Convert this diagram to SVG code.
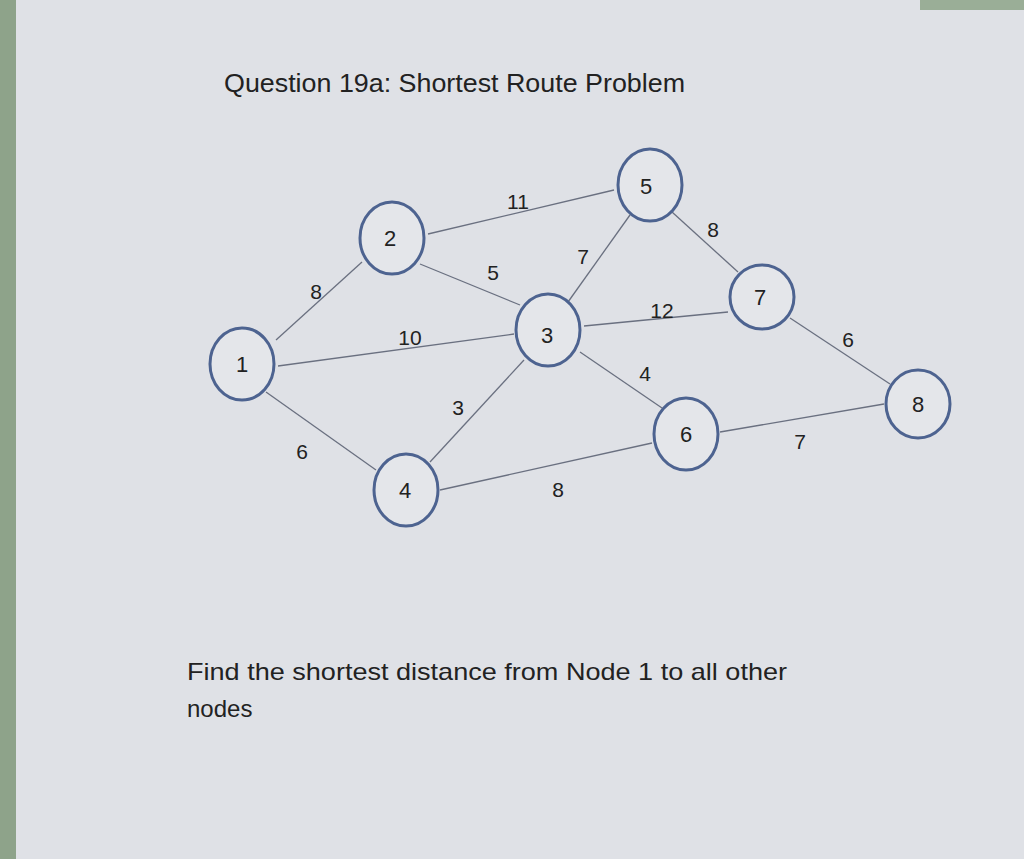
<svg xmlns="http://www.w3.org/2000/svg" width="1024" height="859" viewBox="0 0 1024 859">
<style>
.n{fill:#e4e6ea;stroke:#4d6390;stroke-width:3}
.e{stroke:#6a7080;stroke-width:1.3}
text{font-family:"Liberation Sans",Arial,sans-serif;fill:#222}
.nl{font-size:22px;text-anchor:middle}
.el{font-size:21px;text-anchor:middle}
</style>
<rect width="1024" height="859" fill="#dfe1e6"/>
<rect x="0" y="0" width="16" height="859" fill="#8ea38a"/>
<rect x="920" y="0" width="104" height="10" fill="#9aae97"/>
<text x="224" y="92" font-size="26" textLength="461" lengthAdjust="spacingAndGlyphs">Question 19a: Shortest Route Problem</text>
<g id="connectors">
<line class="e" x1="276" y1="340" x2="362" y2="262"/>
<line class="e" x1="278" y1="366" x2="514" y2="334"/>
<line class="e" x1="266" y1="392" x2="376" y2="470"/>
<line class="e" x1="428" y1="234" x2="614" y2="190"/>
<line class="e" x1="420" y1="264" x2="520" y2="305"/>
<line class="e" x1="568" y1="302" x2="630" y2="215"/>
<line class="e" x1="584" y1="326" x2="728" y2="312"/>
<line class="e" x1="580" y1="352" x2="662" y2="408"/>
<line class="e" x1="430" y1="462" x2="524" y2="360"/>
<line class="e" x1="440" y1="490" x2="652" y2="443"/>
<line class="e" x1="672" y1="212" x2="738" y2="272"/>
<line class="e" x1="790" y1="318" x2="890" y2="384"/>
<line class="e" x1="720" y1="432" x2="884" y2="404"/>
<text class="el" x="316" y="299">8</text>
<text class="el" x="410" y="345">10</text>
<text class="el" x="302" y="459">6</text>
<text class="el" x="518" y="209">11</text>
<text class="el" x="493" y="280">5</text>
<text class="el" x="583" y="264">7</text>
<text class="el" x="458" y="415">3</text>
<text class="el" x="662" y="318">12</text>
<text class="el" x="645" y="381">4</text>
<text class="el" x="558" y="497">8</text>
<text class="el" x="713" y="237">8</text>
<text class="el" x="848" y="347">6</text>
<text class="el" x="800" y="449">7</text>
</g>
<g id="node1"><ellipse class="n" cx="242" cy="364" rx="32" ry="36"/><text class="nl" x="242" y="372">1</text></g>
<g id="node2"><ellipse class="n" cx="392" cy="238" rx="32" ry="36"/><text class="nl" x="390" y="246">2</text></g>
<g id="node3"><ellipse class="n" cx="548" cy="330" rx="32" ry="36"/><text class="nl" x="547" y="343">3</text></g>
<g id="node4"><ellipse class="n" cx="406" cy="490" rx="32" ry="36"/><text class="nl" x="405" y="498">4</text></g>
<g id="node5"><ellipse class="n" cx="650" cy="185" rx="32" ry="36"/><text class="nl" x="646" y="194">5</text></g>
<g id="node6"><ellipse class="n" cx="686" cy="434" rx="32" ry="36"/><text class="nl" x="686" y="442">6</text></g>
<g id="node7"><ellipse class="n" cx="762" cy="297" rx="32" ry="32"/><text class="nl" x="760" y="305">7</text></g>
<g id="node8"><ellipse class="n" cx="918" cy="404" rx="32" ry="34"/><text class="nl" x="918" y="412">8</text></g>
<text x="187" y="680" font-size="24" textLength="600" lengthAdjust="spacingAndGlyphs">Find the shortest distance from Node 1 to all other</text>
<text x="187" y="717" font-size="24">nodes</text>
</svg>
